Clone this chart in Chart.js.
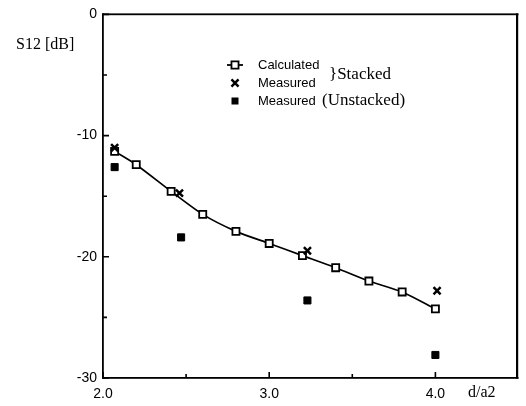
<!DOCTYPE html>
<html>
<head>
<meta charset="utf-8">
<script src="https://cdn.jsdelivr.net/npm/chart.js@4.4.1/dist/chart.umd.min.js"></script>
<style>
  html, body { margin: 0; padding: 0; background: #fff; overflow: hidden; }
  #wrap { width: 526px; height: 406px; position: relative; }
</style>
</head>
<body>
<div id="wrap"><canvas id="myChart"></canvas></div>
<script>
// values
const calcX = [2.07, 2.2, 2.41, 2.6, 2.8, 3.0, 3.2, 3.4, 3.6, 3.8, 4.0]
const calcY = [-11.3, -12.4, -14.6, -16.5, -17.9, -18.9, -19.9, -20.9, -22.0, -22.9, -24.3]
const measX = [2.07, 2.46, 3.23, 4.01]
const measY = [-11.0, -14.75, -19.5, -22.8]
const unstX = [2.07, 2.47, 3.23, 4.0]
const unstY = [-12.6, -18.4, -23.6, -28.1]
const xTicks = [2, 3, 4]
const xMinor = [2.5, 3.5]
const yTicks = [0, -10, -20, -30]
const yMinor = [-5, -15, -25]

const pts = (xs, ys) => xs.map((x, i) => ({ x: x, y: ys[i] }))

// frame, inward ticks, axis titles and the hand-made legend
const decor = {
    id: 'decor',
    afterDraw(chart) {
        const c = chart.ctx
        const a = chart.chartArea
        const sx = chart.scales.x
        const sy = chart.scales.y
        c.save()
        c.fillStyle = '#000'
        // frame as filled strips
        c.fillRect(a.left - 1, a.top - 1, a.right - a.left + 1, 1.8)
        c.fillRect(a.left - 1, a.bottom - 1, a.right - a.left + 1, 1.8)
        c.fillRect(a.left - 1, a.top - 1, 1.8, a.bottom - a.top + 1.8)
        c.fillRect(a.right - 2.5, a.top - 1, 2.2, a.bottom - a.top + 1.8)

        c.strokeStyle = '#000'
        c.lineWidth = 1.6
        c.beginPath()
        xTicks.forEach(v => { const p = sx.getPixelForValue(v); c.moveTo(p, a.bottom); c.lineTo(p, a.bottom - 6) })
        xMinor.forEach(v => { const p = sx.getPixelForValue(v); c.moveTo(p, a.bottom); c.lineTo(p, a.bottom - 4) })
        yTicks.forEach(v => { const p = sy.getPixelForValue(v); c.moveTo(a.left, p); c.lineTo(a.left + 6, p) })
        yMinor.forEach(v => { const p = sy.getPixelForValue(v); c.moveTo(a.left, p); c.lineTo(a.left + 4, p) })
        c.stroke()

        c.textBaseline = 'middle'
        c.font = '16px "Liberation Serif"'
        c.textAlign = 'left'
        c.fillText('S12 [dB]', 16, 45)
        c.fillText('d/a2', 468, 393)

        // legend
        const lx = 235
        const rows = [65, 83, 101]
        const h = Chart.helpers
        c.lineWidth = 1.8
        c.beginPath(); c.moveTo(lx - 8, rows[0]); c.lineTo(lx + 8, rows[0]); c.stroke()
        c.fillStyle = '#fff'
        h.drawPoint(c, { pointStyle: 'rect', radius: 5, borderWidth: 1.8 }, lx, rows[0])
        c.fillStyle = '#000'
        c.lineWidth = 2.5
        h.drawPoint(c, { pointStyle: 'crossRot', radius: 5, borderWidth: 2.5 }, lx, rows[1])
        c.fillRect(lx - 3.5, rows[2] - 3.5, 7, 7)

        c.font = '13px "Liberation Sans"'
        c.fillText('Calculated', 258, rows[0])
        c.fillText('Measured', 258, rows[1])
        c.fillText('Measured', 258, rows[2])
        c.font = '17px "Liberation Serif"'
        c.fillText('}Stacked', 329, 75)
        c.fillText('(Unstacked)', 322, rows[2])
        c.restore()
    }
}

const ctx = document.getElementById('myChart').getContext('2d')
const myChart = new Chart(ctx, {
    type: 'scatter',
    data: {
        datasets: [
            {
                label: 'Calculated',
                data: pts(calcX, calcY),
                showLine: true,
                tension: 0.25,
                borderColor: '#000',
                borderWidth: 1.7,
                pointStyle: 'rect',
                pointRadius: 5,
                pointBorderWidth: 1.8,
                pointBackgroundColor: '#fff',
                pointBorderColor: '#000',
                order: 2
            },
            {
                label: 'Measured',
                data: pts(measX, measY),
                pointStyle: 'crossRot',
                pointRadius: 5,
                pointBorderWidth: 2.5,
                pointBorderColor: '#000',
                order: 1
            },
            {
                label: 'Measured (Unstacked)',
                data: pts(unstX, unstY),
                pointStyle: 'rect',
                pointRadius: 5,
                pointBorderWidth: 1,
                pointBackgroundColor: '#000',
                pointBorderColor: '#000',
                order: 3
            }
        ]
    },
    options: {
        responsive: true,
        maintainAspectRatio: false,
        animation: false,
        layout: { padding: { top: 13, right: 2, left: 0, bottom: 0 } },
        plugins: { legend: { display: false }, tooltip: { enabled: false } },
        scales: {
            x: {
                type: 'linear',
                min: 2, max: 4.5,
                afterBuildTicks: s => { s.ticks = xTicks.map(v => ({ value: v })) },
                afterFit: s => { s.height = 28 },
                grid: { display: false, drawTicks: false },
                border: { display: false },
                ticks: {
                    color: '#000',
                    font: { family: 'Liberation Sans', size: 14 },
                    padding: 8,
                    maxRotation: 0,
                    callback: v => v.toFixed(1)
                }
            },
            y: {
                type: 'linear',
                min: -30, max: 0,
                afterBuildTicks: s => { s.ticks = yTicks.map(v => ({ value: v })) },
                afterFit: s => { s.width = 103 },
                grid: { display: false, drawTicks: false },
                border: { display: false },
                ticks: {
                    color: '#000',
                    font: { family: 'Liberation Sans', size: 14 },
                    padding: 6
                }
            }
        }
    },
    plugins: [decor]
})
</script>
</body>
</html>
